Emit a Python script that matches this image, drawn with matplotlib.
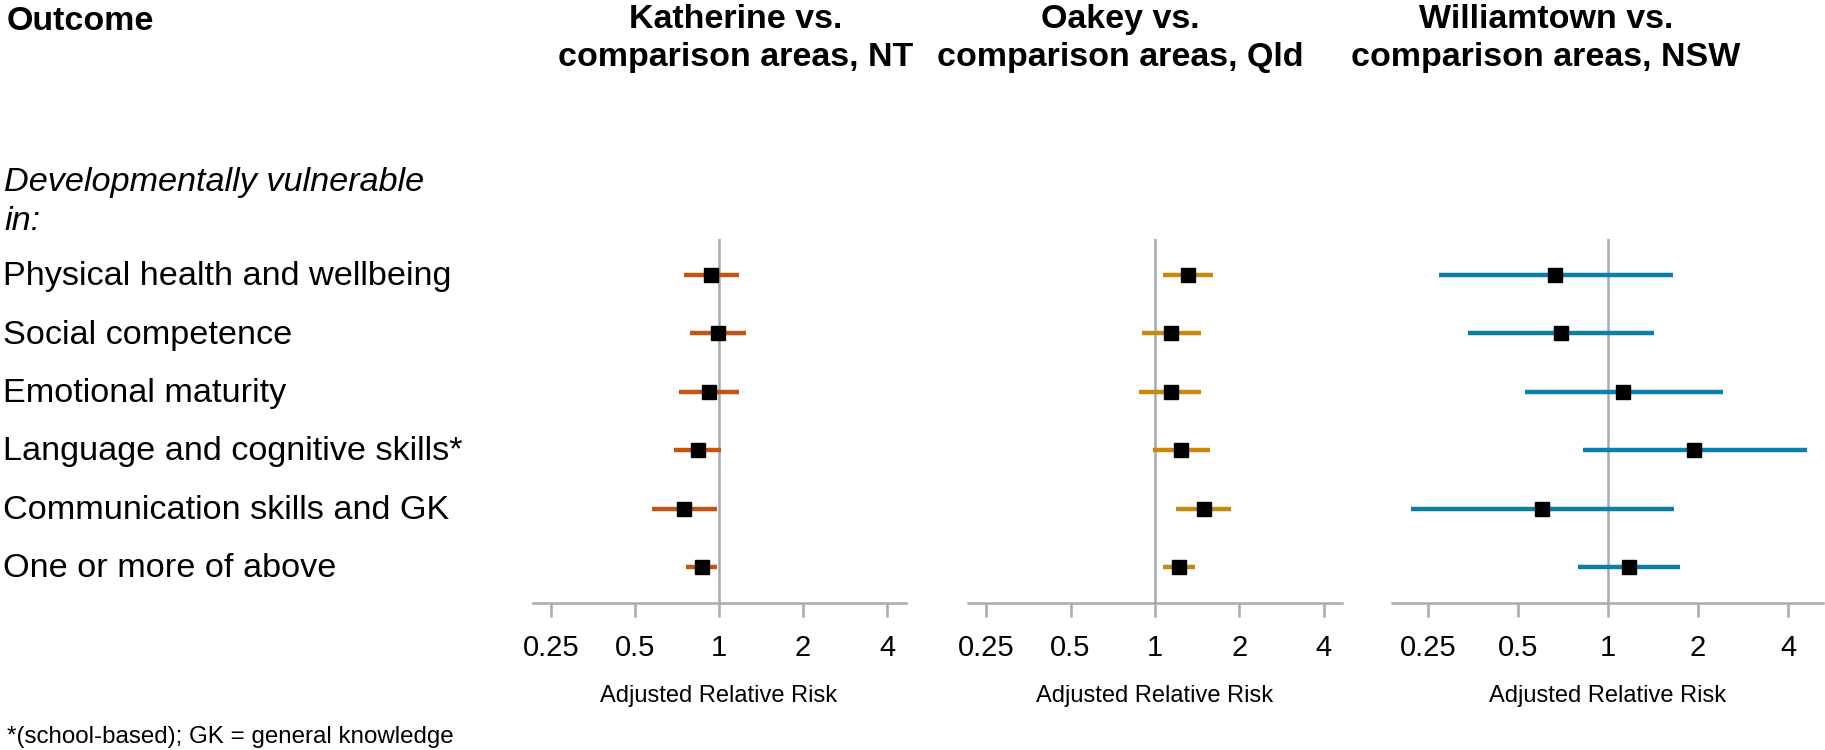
import matplotlib
matplotlib.use("Agg")
import matplotlib.pyplot as plt
import matplotlib.transforms as mtransforms

plt.rcParams['font.family'] = ['Liberation Sans', 'DejaVu Sans']

# ---------------- data ----------------
outcomes = ["Physical health and wellbeing", "Social competence", "Emotional maturity",
            "Language and cognitive skills*", "Communication skills and GK", "One or more of above"]
panel_titles = ["Katherine vs.\ncomparison areas, NT",
                "Oakey vs.\ncomparison areas, Qld",
                "Williamtown vs.\ncomparison areas, NSW"]
tick_values = [0.25, 0.5, 1, 2, 4]
tick_labels = ["0.25", "0.5", "1", "2", "4"]

katherine_rr = [0.94, 0.99, 0.92, 0.84, 0.75, 0.87]
katherine_lo = [0.75, 0.79, 0.72, 0.69, 0.575, 0.76]
katherine_hi = [1.18, 1.25, 1.18, 1.02, 0.98, 0.98]

oakey_rr = [1.31, 1.14, 1.14, 1.24, 1.49, 1.22]
oakey_lo = [1.07, 0.90, 0.88, 0.98, 1.19, 1.07]
oakey_hi = [1.61, 1.46, 1.46, 1.57, 1.87, 1.39]

williamtown_rr = [0.665, 0.697, 1.12, 1.94, 0.60, 1.175]
williamtown_lo = [0.272, 0.34, 0.527, 0.825, 0.219, 0.794]
williamtown_hi = [1.65, 1.43, 2.42, 4.63, 1.66, 1.74]

colors = ["#C4540F", "#C98A0B", "#0C7FA8"]
grey = "#A7ABAF"

W, H = 1825, 750
fig = plt.figure(figsize=(W / 100, H / 100), dpi=100)

def fx(x):
    return x / W

def fy(y):
    return 1 - y / H

# axes layout in pixels: (left, right)
panel_px = [(533, 906), (968, 1342), (1392, 1823)]
xlims = [(2 ** -2.214, 2 ** 2.226), (2 ** -2.214, 2 ** 2.214), (2 ** -2.4, 2 ** 2.389)]
top_px, bot_px = 239, 603
title_cx = [736, 1120, 1546]

series = [(katherine_rr, katherine_lo, katherine_hi),
          (oakey_rr, oakey_lo, oakey_hi),
          (williamtown_rr, williamtown_lo, williamtown_hi)]

n = len(outcomes)
ypos = list(range(n))
axes = []
for i, ((l, r), (rr, lo, hi)) in enumerate(zip(panel_px, series)):
    ax = fig.add_axes([fx(l), fy(bot_px), (r - l) / W, (bot_px - top_px) / H])
    ax.set_xscale("log")
    ax.set_xlim(*xlims[i])
    ax.set_ylim(n - 1 + 0.616, -0.616)
    ax.axvline(1, color=grey, lw=1.8, zorder=1)
    ax.hlines(ypos, lo, hi, color=colors[i], lw=3.2, zorder=2, capstyle='butt')
    ax.plot(rr, ypos, linestyle='none', marker='s', markersize=9.5,
            markerfacecolor='black', markeredgecolor='black', zorder=3)
    for s in ["top", "left", "right"]:
        ax.spines[s].set_visible(False)
    ax.spines["bottom"].set_color(grey)
    ax.spines["bottom"].set_linewidth(1.8)
    ax.set_yticks([])
    ax.xaxis.set_minor_locator(matplotlib.ticker.NullLocator())
    ax.set_xticks(tick_values)
    ax.set_xticklabels(tick_labels)
    ax.tick_params(axis='x', direction='out', length=10, width=1.8, color=grey,
                   labelsize=21, pad=12, labelcolor='black')
    ax.patch.set_alpha(0)
    # x label centered on 1
    trans = mtransforms.blended_transform_factory(ax.transData, fig.transFigure)
    ax.text(1, fy(702), "Adjusted Relative Risk", transform=trans, ha='center',
            va='baseline', fontsize=17)
    # titles
    t1, t2 = panel_titles[i].split("\n")
    fig.text(fx(title_cx[i]), fy(28), t1, ha='center', va='baseline', fontsize=24.5,
             fontweight='bold')
    fig.text(fx(title_cx[i]), fy(66), t2, ha='center', va='baseline', fontsize=24.5,
             fontweight='bold')
    axes.append(ax)

# left column
fig.text(fx(7), fy(30), "Outcome", ha='left', va='baseline', fontsize=24.5, fontweight='bold')
fig.text(fx(4), fy(191), "Developmentally vulnerable", ha='left', va='baseline',
         fontsize=24.7, style='italic')
fig.text(fx(4), fy(230), "in:", ha='left', va='baseline', fontsize=24.7, style='italic')

ltrans = mtransforms.blended_transform_factory(fig.transFigure, axes[0].transData)
ltrans = mtransforms.offset_copy(ltrans, fig=fig, y=-7.4, units='points')
for yv, lab in zip(ypos, outcomes):
    fig.text(fx(3), yv, lab, transform=ltrans, ha='left', va='baseline', fontsize=24.7)

fig.text(fx(7), fy(743), "*(school-based); GK = general knowledge", ha='left',
         va='baseline', fontsize=17.4)

fig.savefig("out.png", dpi=100)
